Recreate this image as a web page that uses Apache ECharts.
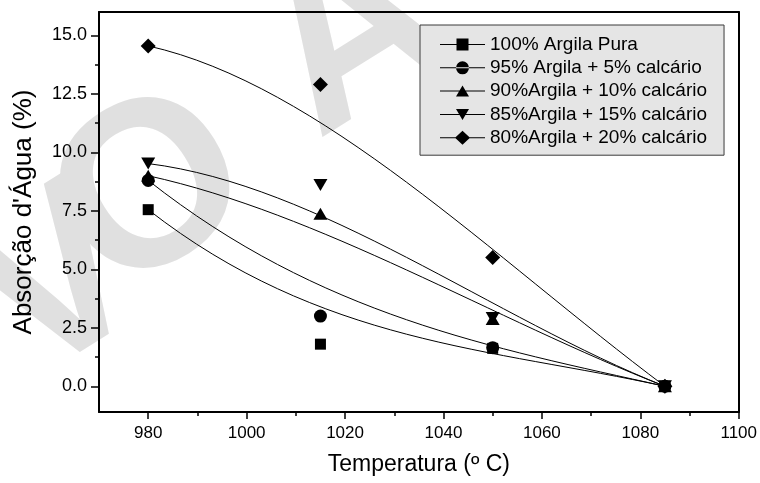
<!DOCTYPE html>
<html>
<head>
<meta charset="utf-8">
<script src="https://cdn.jsdelivr.net/npm/echarts@6/dist/echarts.min.js"></script>
<style>
  html, body { margin: 0; padding: 0; background: #fff; }
  #chart { width: 760px; height: 483px; }
</style>
</head>
<body>
<div id="chart"></div>
<script>
// temperaturas (º C)
const temps = [980, 1015, 1050, 1085];

// absorção d'água (%) por composição
const argila100 = [7.55, 1.8, 1.62, 0.0];
const argila95 = [8.8, 3.0, 1.65, 0.0];
const argila90 = [9.0, 7.38, 2.88, 0.0];
const argila85 = [9.52, 8.6, 2.92, 0.0];
const argila80 = [14.55, 12.9, 5.51, 0.0];

const seriesNames = [
  "100% Argila Pura",
  "95% Argila + 5% calcário",
  "90%Argila + 10% calcário",
  "85%Argila + 15% calcário",
  "80%Argila + 20% calcário",
];

// ticks
const xMajorTicks = [980, 1000, 1020, 1040, 1060, 1080, 1100];
const xMinorTicks = [990, 1010, 1030, 1050, 1070, 1090];
const yMajorTicks = [0, 2.5, 5, 7.5, 10, 12.5, 15];
const yMinorTicks = [1.25, 3.75, 6.25, 8.75, 11.25, 13.75];

// marca d'água
const watermark = ["V", "O", "A"];

const FONT = "Liberation Sans";
const allData = [argila100, argila95, argila90, argila85, argila80];
const symbols = ["rect", "circle", "triangle", "triangle", "diamond"];
const symbolSizes = [11, 13, [14, 12], [14, 12], 15];
const symbolRotates = [0, 0, 0, 180, 0];

// icones da legenda: linha + símbolo
const box = "M0 0M45 14";
const legLine = "M0 6.5H45V7.5H0Z";
const legendIcons = [
  "path://" + box + legLine + "M16.5 1H28.5V13H16.5Z",
  "path://" + box + legLine + "M16 7a6.5 6.5 0 1 0 13 0a6.5 6.5 0 1 0 -13 0Z",
  "path://" + box + legLine + "M22.5 1.5L29 12.5H16Z",
  "path://" + box + legLine + "M16 1.5H29L22.5 12.5Z",
  "path://" + box + legLine + "M22.5 0L30 7L22.5 14L15 7Z",
];

// curva B-spline (pontos como pontos de controle)
function bezierItem(xs, ys) {
  return function (params, api) {
    if (params.dataIndex !== 0) return;
    const p = xs.map((x, i) => api.coord([x, ys[i]]));
    return {
      type: "bezierCurve",
      shape: {
        x1: p[0][0], y1: p[0][1],
        cpx1: p[1][0], cpy1: p[1][1],
        cpx2: p[2][0], cpy2: p[2][1],
        x2: p[3][0], y2: p[3][1],
      },
      style: { stroke: "#000", lineWidth: 1, fill: "none" },
    };
  };
}

const series = [];
allData.forEach((ys) => {
  series.push({
    type: "custom",
    silent: true,
    z: 3,
    renderItem: bezierItem(temps, ys),
    data: temps.map((x, i) => [x, ys[i]]),
    encode: { x: 0, y: 1 },
  });
});
allData.forEach((ys, k) => {
  series.push({
    name: seriesNames[k],
    type: "scatter",
    z: 5,
    symbol: symbols[k],
    symbolSize: symbolSizes[k],
    symbolRotate: symbolRotates[k],
    itemStyle: { color: "#000", opacity: 1 },
    data: temps.map((x, i) => [x, ys[i]]),
  });
});

const wmPos = [[60, 288], [154, 196], [355, 40]];
const axisLineStyle = { color: "#000", width: 2 };

const option = {
  backgroundColor: "#fff",
  animation: false,
  textStyle: { fontFamily: FONT },
  grid: { left: 99, right: 20, top: 12, bottom: 71 },
  graphic: watermark.map((ch, i) => ({
    type: "text",
    z: -10,
    silent: true,
    x: wmPos[i][0],
    y: wmPos[i][1],
    rotation: (32 * Math.PI) / 180,
    style: {
      text: ch,
      font: "bold 235px '" + FONT + "'",
      fill: "#e0e0e0",
      textAlign: "center",
      textVerticalAlign: "middle",
    },
  })),
  legend: {
    orient: "vertical",
    left: 420,
    top: 25,
    padding: [10, 17, 8, 20],
    itemWidth: 45,
    itemHeight: 14,
    itemGap: 4.3,
    backgroundColor: "#e5e5e5",
    borderColor: "#3a3a3a",
    borderWidth: 1,
    textStyle: { fontFamily: FONT, fontSize: 19, color: "#000", lineHeight: 19 },
    data: seriesNames.map((n, k) => ({ name: n, icon: legendIcons[k] })),
  },
  xAxis: [
    {
      type: "value",
      min: 970,
      max: 1100,
      position: "bottom",
      name: "Temperatura (º C)",
      nameLocation: "middle",
      nameGap: 41,
      nameTextStyle: { fontFamily: FONT, fontSize: 23, color: "#000" },
      splitLine: { show: false },
      axisLine: { onZero: false, lineStyle: axisLineStyle },
      axisTick: { customValues: xMajorTicks, length: 7, lineStyle: { color: "#000", width: 1.5 } },
      axisLabel: {
        customValues: xMajorTicks,
        margin: 13,
        fontFamily: FONT,
        fontSize: 17,
        color: "#000",
        formatter: (v) => String(v),
      },
    },
    {
      type: "value",
      min: 970,
      max: 1100,
      position: "bottom",
      splitLine: { show: false },
      axisLine: { show: false, onZero: false },
      axisTick: { customValues: xMinorTicks, length: 4, lineStyle: { color: "#000", width: 1.5 } },
      axisLabel: { show: false },
    },
    {
      type: "value",
      min: 970,
      max: 1100,
      position: "top",
      splitLine: { show: false },
      axisLine: { onZero: false, lineStyle: axisLineStyle },
      axisTick: { show: false },
      axisLabel: { show: false },
    },
  ],
  yAxis: [
    {
      type: "value",
      min: -1.1,
      max: 16,
      position: "left",
      name: "Absorção d'Água (%)",
      nameLocation: "middle",
      nameGap: 62,
      nameTextStyle: { fontFamily: FONT, fontSize: 26, color: "#000" },
      splitLine: { show: false },
      axisLine: { onZero: false, lineStyle: axisLineStyle },
      axisTick: { customValues: yMajorTicks, length: 8, lineStyle: { color: "#000", width: 1.5 } },
      axisLabel: {
        customValues: yMajorTicks,
        margin: 12,
        fontFamily: FONT,
        fontSize: 18,
        color: "#000",
        formatter: (v) => v.toFixed(1),
      },
    },
    {
      type: "value",
      min: -1.1,
      max: 16,
      position: "left",
      splitLine: { show: false },
      axisLine: { show: false, onZero: false },
      axisTick: { customValues: yMinorTicks, length: 4, lineStyle: { color: "#000", width: 1.5 } },
      axisLabel: { show: false },
    },
    {
      type: "value",
      min: -1.1,
      max: 16,
      position: "right",
      splitLine: { show: false },
      axisLine: { onZero: false, lineStyle: axisLineStyle },
      axisTick: { show: false },
      axisLabel: { show: false },
    },
  ],
  series: series,
};

const chart = echarts.init(document.getElementById("chart"), null, { renderer: "canvas" });
chart.setOption(option);
</script>
</body>
</html>
